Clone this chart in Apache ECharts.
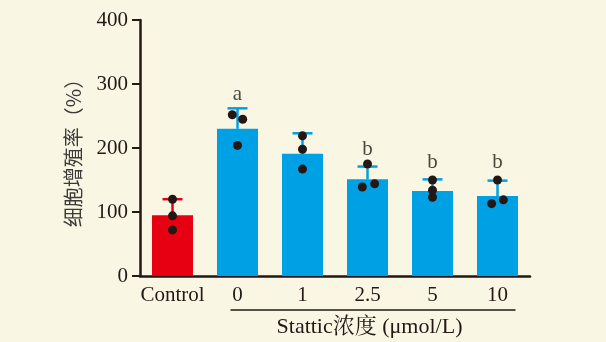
<!DOCTYPE html>
<html><head><meta charset="utf-8">
<script src="https://cdn.jsdelivr.net/npm/echarts@6/dist/echarts.min.js"></script>
<style>html,body{margin:0;padding:0;background:#f9f7e4;}#c{width:606px;height:342px;}</style>
</head><body><div id="c"></div>
<script>
const categories = ['Control', '0', '1', '2.5', '5', '10'];
const means = [95, 230, 191, 151, 133, 125];
const sds = [25, 32, 32, 20, 18, 24];
const replicates = [[120, 94, 72], [252, 245, 204], [219, 198, 167], [175, 139, 144], [150, 134, 123], [150, 113, 119]];
const jitter = [[0, 0, 0], [-0.08, 0.08, 0], [0, 0, 0], [0, -0.08, 0.11], [0, 0, 0], [0, -0.09, 0.09]];
const letters = ['', 'a', '', 'b', 'b', 'b'];
const letterValues = [null, 283, null, 197, 177, 177];
const yTicks = [0, 100, 200, 300, 400];
const xGroupTitle = 'Stattic浓度 (μmol/L)';
const yTitle = '细胞增殖率（%）';

const RED = '#e60012', BLUE = '#00a0e4', INK = '#231815';
const serif = '"Liberation Serif", "Times New Roman", serif';
const barColors = categories.map((c, i) => i === 0 ? RED : BLUE);

const chart = echarts.init(document.getElementById('c'));
const dots = [];
replicates.forEach((arr, i) => arr.forEach((v, k) => dots.push([i + jitter[i][k], v])));

const option = {
  backgroundColor: '#f9f7e4',
  animation: false,
  grid: { left: 140, right: 76, top: 20, bottom: 66 },
  xAxis: [{
    type: 'category', data: categories,
    axisLine: { onZero: false, lineStyle: { color: INK, width: 2.5 } },
    axisTick: { alignWithLabel: true, length: 7, lineStyle: { color: INK, width: 2 } },
    axisLabel: { interval: 0, color: INK, fontFamily: serif, fontSize: 21, margin: 9 }
  }, {
    type: 'value', min: -0.5, max: 5.5, show: false
  }],
  yAxis: {
    type: 'value', min: 0, max: 400, interval: 100,
    name: yTitle, nameLocation: 'middle', nameRotate: 90, nameGap: 57,
    nameTextStyle: { color: '#3e3a39', fontSize: 20, fontFamily: '"Noto Sans CJK SC", sans-serif' },
    axisLine: { show: true, onZero: false, lineStyle: { color: INK, width: 2.5 } },
    axisTick: { show: true, length: 8, lineStyle: { color: INK, width: 2 } },
    axisLabel: { color: INK, fontFamily: serif, fontSize: 21, margin: 12,
      formatter: v => yTicks.includes(v) ? String(v) : '' },
    splitLine: { show: false }
  },
  series: [{
    type: 'bar', barWidth: 41, z: 2,
    data: means.map((v, i) => ({ value: v, itemStyle: { color: barColors[i] } }))
  }, {
    type: 'custom', z: 3,
    data: means.map((m, i) => [i, m, m + sds[i]]),
    renderItem: function (params, api) {
      const i = api.value(0);
      const b = api.coord([i, api.value(1)]);
      const t = api.coord([i, api.value(2)]);
      const col = barColors[i];
      const style = { stroke: col, lineWidth: 2.5 };
      return { type: 'group', children: [
        { type: 'line', shape: { x1: b[0], y1: b[1], x2: t[0], y2: t[1] }, style },
        { type: 'line', shape: { x1: t[0] - 10, y1: t[1], x2: t[0] + 10, y2: t[1] }, style }
      ] };
    }
  }, {
    type: 'scatter', xAxisIndex: 1, z: 4, symbolSize: 9,
    itemStyle: { color: INK, opacity: 1 },
    data: dots
  }, {
    type: 'scatter', z: 5, symbolSize: 0,
    data: letterValues.map((v, i) => v == null ? [categories[i], null] : [categories[i], v]),
    label: { show: true, position: 'inside', color: INK, fontFamily: serif, fontSize: 21,
      formatter: p => letters[p.dataIndex] }
  }]
};
chart.setOption(option);

const x0 = chart.convertToPixel({ xAxisIndex: 0 }, '0');
const x10 = chart.convertToPixel({ xAxisIndex: 0 }, '10');
const yBase = chart.convertToPixel({ yAxisIndex: 0 }, 0);
chart.setOption({
  graphic: [{
    type: 'line', shape: { x1: x0 - 7, y1: yBase + 34, x2: x10 + 18, y2: yBase + 34 },
    style: { stroke: INK, lineWidth: 1.5 }
  }, {
    type: 'text', x: (x0 + x10) / 2 + 2, y: yBase + 51,
    style: { text: xGroupTitle, fill: INK, font: '22px "Liberation Serif", "Noto Serif CJK SC", "Noto Sans CJK SC", serif',
      textAlign: 'center', textVerticalAlign: 'middle' }
  }]
});
</script></body></html>
